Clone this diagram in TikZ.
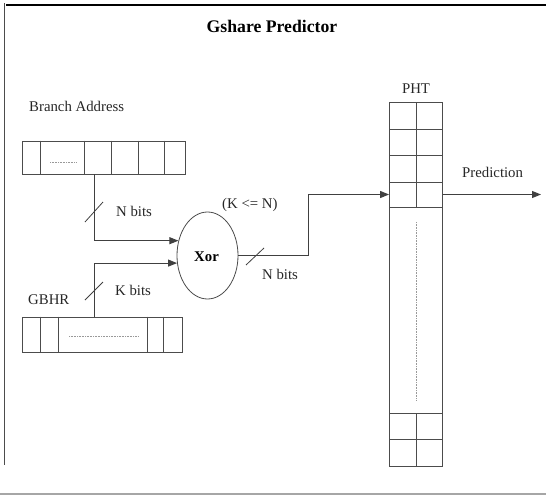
\documentclass[tikz,border=0pt]{standalone}
\usepackage{fontspec}
\setmainfont{Liberation Serif}
\usetikzlibrary{arrows.meta,shapes.geometric}

\tikzset{
  wire/.style={draw=black!75, line width=0.9pt},
  arrowwire/.style={wire, -{Triangle[length=9pt,width=7pt]}},
  cellbox/.style={draw=black!70, line width=0.8pt, rectangle, inner sep=0pt},
  cellline/.style={draw=black!70, line width=0.8pt},
  filler/.style={draw=black!40, line width=0.6pt, densely dotted},
  slash/.style={draw=black!75, line width=0.8pt},
  label/.style={inner sep=0pt, font=\fontsize{14.8}{17}\selectfont, text=black!85},
  boldlabel/.style={inner sep=0pt, font=\fontsize{14.8}{17}\selectfont\bfseries},
  titlelabel/.style={inner sep=0pt, font=\fontsize{17.7}{21}\selectfont\bfseries},
}

\begin{document}
\begin{tikzpicture}[x=1pt,y=-1pt]
\useasboundingbox (0,0) rectangle (546,495);

% frame lines
\draw[black, line width=2.6pt] (6,5) -- (546,5);
\draw[black!70, line width=1.4pt] (4.5,3.5) -- (4.5,465);
\draw[black!35, line width=2pt] (0,493.5) -- (546,493.5);

% title
\node[titlelabel, anchor=base] (title) at (272,32.5) {Gshare Predictor};

% branch address register
\node[label, anchor=base west] (balabel) at (29,111) {Branch Address};
\node[cellbox, minimum width=163pt, minimum height=33pt] (ba) at (103.5,157.5) {};
\foreach \x in {40,84,111,138,164}
  \draw[cellline] (ba.north -| \x,0) -- (ba.south -| \x,0);
\draw[filler] (50,162) -- (77,162);

% global branch history register
\node[label, anchor=base west] (gbhrlabel) at (28,304) {GBHR};
\node[cellbox, minimum width=160pt, minimum height=35pt] (gbhr) at (102,334.5) {};
\foreach \x in {40,58,147,163}
  \draw[cellline] (gbhr.north -| \x,0) -- (gbhr.south -| \x,0);
\draw[filler] (69,336) -- (139,336);

% xor unit
\node[ellipse, draw=black!70, line width=0.8pt, minimum width=61pt, minimum height=87pt, inner sep=0pt] (xor) at (207.5,255.5) {};
\node[boldlabel, anchor=base] (xorlabel) at (206.5,261) {Xor};
\node[label, anchor=base west] (cond) at (222,208) {(K <= N)};

% pattern history table
\node[label, anchor=base] (phtlabel) at (416,93) {PHT};
\node[cellbox, minimum width=53pt, minimum height=364pt] (pht) at (416,284) {};
\foreach \y in {129,155,182,207,413,439}
  \draw[cellline] (pht.west |- 0,\y) -- (pht.east |- 0,\y);
\draw[cellline] (416,102) -- (416,207);
\draw[cellline] (416,413) -- (416,466);
\draw[filler] (416,222) -- (416,400);

% connectors
\coordinate (tapA) at (94,174);
\coordinate (tapK) at (94,317);
\coordinate (jog) at (308,194.5);
\coordinate (pred) at (541,194.5);

\draw[arrowwire] (tapA) |- (xor.153);
\draw[arrowwire] (tapK) |- (xor.194);
\draw[arrowwire] (xor.east) -| (jog) -- (jog -| pht.west);
\draw[arrowwire] (jog -| pht.east) -- (pred);

% bus width marks
\draw[slash] (85,222) -- (103,202);
\node[label, anchor=base west] (nbitsA) at (116,216) {N bits};
\draw[slash] (85,300) -- (103,282);
\node[label, anchor=base west] (kbits) at (115,295) {K bits};
\draw[slash] (246,265) -- (264,248);
\node[label, anchor=base west] (nbitsB) at (262,279) {N bits};

\node[label, anchor=base west] (predlabel) at (462,177) {Prediction};
\end{tikzpicture}
\end{document}
